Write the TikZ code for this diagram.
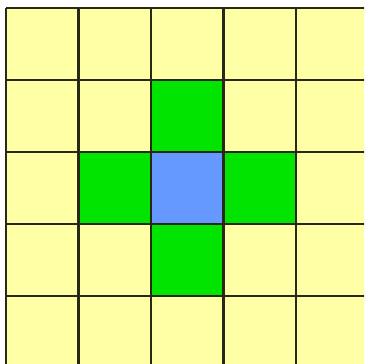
\documentclass[tikz,border=0pt]{standalone}
\definecolor{cellyellow}{RGB}{255,255,165}
\definecolor{cellgreen}{RGB}{0,228,0}
\definecolor{cellblue}{RGB}{102,153,255}
\definecolor{gridline}{RGB}{40,40,25}
\tikzset{
  gridstroke/.style={draw=gridline, line width=2.5pt},
}
\begin{document}
\begin{tikzpicture}[x=1pt,y=-1pt]
\useasboundingbox (0,0) rectangle (364,364);
\begin{scope}
\clip (0,0) rectangle (364,364);
\fill[white] (0,0) rectangle (364,364);
% cells
\foreach \i in {0,...,4}{
  \foreach \j in {0,...,4}{
    \fill[cellyellow] ({6+72.5*\i},{8+72*\j}) rectangle ({6+72.5*(\i+1)},{8+72*(\j+1)});
  }
}
\foreach \i/\j in {2/1,1/2,3/2,2/3}{
  \fill[cellgreen] ({6+72.5*\i},{8+72*\j}) rectangle ({6+72.5*(\i+1)},{8+72*(\j+1)});
}
\fill[cellblue] ({6+72.5*2},{8+72*2}) rectangle ({6+72.5*3},{8+72*3});
% grid lines
\foreach \i in {0,...,5}{
  \draw[gridstroke] ({6+72.5*\i},8) -- ({6+72.5*\i},380);
}
\foreach \j in {0,...,5}{
  \draw[gridstroke] (6,{8+72*\j}) -- (380,{8+72*\j});
}
\end{scope}
\end{tikzpicture}
\end{document}
